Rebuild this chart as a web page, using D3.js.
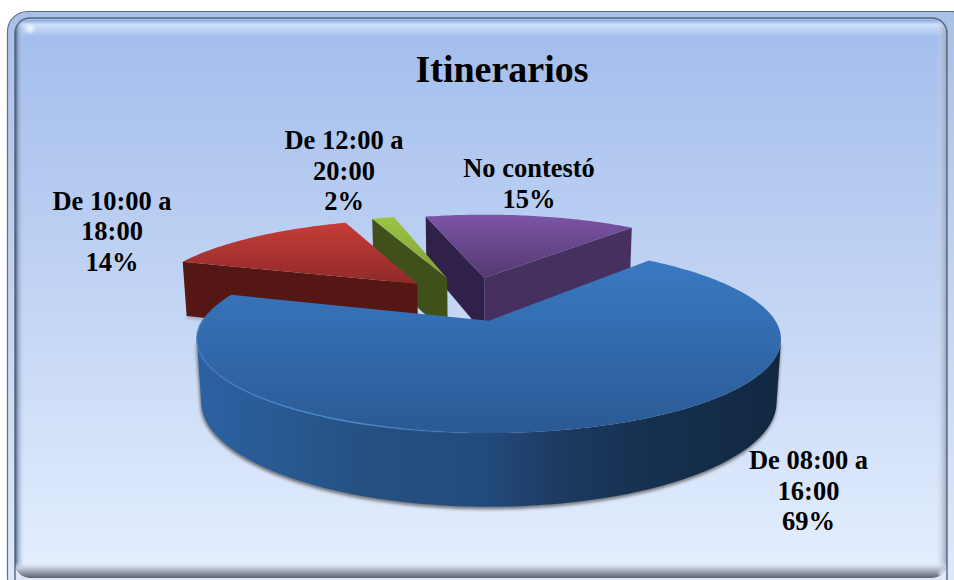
<!DOCTYPE html>
<html>
<head>
<meta charset="utf-8">
<title>Itinerarios</title>
<script src="https://cdn.jsdelivr.net/npm/d3@7"></script>
<style>
  html, body { margin: 0; padding: 0; background: #fff; }
  svg { display: block; }
  text { font-family: "Liberation Serif", serif; font-weight: bold; fill: #000; text-anchor: middle; }
</style>
</head>
<body>
<svg id="chart" width="954" height="580"></svg>
<script>
const categories = ['De 08:00 a 16:00', 'De 10:00 a 18:00', 'De 12:00 a 20:00', 'No contestó'];
const values = [68.8, 14.2, 1.6, 15.4];
const labelLines = [['De 08:00 a', '16:00', '69%'], ['De 10:00 a', '18:00', '14%'], ['De 12:00 a', '20:00', '2%'], ['No contestó', '15%']];
const topColors = [['#3a79c3', '#2a5a94'], ['#c73c38', '#8f2a28'], ['#9cc443', '#7f9f35'], ['#7c54a6', '#54386f']];
const wallColors = [['#2b62a3', '#122842'], ['#541713', '#541713'], ['#3f501b', '#3f501b'], ['#45305f', '#2f2148']];

const WIDTH = 954, HEIGHT = 580;
const svg = d3.select('#chart');
const defs = svg.append('defs');

function gradient(id, stops, x1, y1, x2, y2) {
  const g = defs.append('linearGradient').attr('id', id)
    .attr('gradientUnits', 'userSpaceOnUse')
    .attr('x1', x1).attr('y1', y1).attr('x2', x2).attr('y2', y2);
  stops.forEach(s => g.append('stop').attr('offset', s[0]).attr('stop-color', s[1]).attr('stop-opacity', s[2] === undefined ? 1 : s[2]));
}

/*
 * Frame
 */
gradient('panel', [[0, '#a3bdec'], [0.5, '#c3d5f4'], [1, '#e4eefe']], 0, 30, 0, 570);
gradient('rim', [[0, '#a9c0e6'], [1, '#e0e8f8']], 0, 11, 0, 580);
gradient('topBand', [[0, '#8fa9d6'], [0.3, '#cfe2fc'], [1, '#a6c0ec']], 0, 20, 0, 36);
gradient('bottomBand', [[0, '#dfe9fa', 0], [0.4, '#c0c8d6'], [1, '#5a6272']], 0, 562, 0, 578);
gradient('rightBand', [[0, '#d5dff0', 0], [1, '#9aa4b6']], 936, 0, 947, 0);
gradient('leftBand', [[0, '#46556f'], [0.4, '#8ea2c4', 0.7], [1, '#b8cdef', 0]], 15, 0, 24, 0);

const glint = defs.append('radialGradient').attr('id', 'glint');
glint.append('stop').attr('offset', 0).attr('stop-color', '#fff').attr('stop-opacity', 0.85);
glint.append('stop').attr('offset', 1).attr('stop-color', '#fff').attr('stop-opacity', 0);

svg.append('rect').attr('x', 7.5).attr('y', 11.5).attr('width', 965).attr('height', 585).attr('rx', 20)
  .attr('fill', 'url(#rim)').attr('stroke', '#5d6f8f').attr('stroke-width', 1.2);

const clipPanel = defs.append('clipPath').attr('id', 'panelClip');
clipPanel.append('rect').attr('x', 15).attr('y', 18).attr('width', 932).attr('height', 560).attr('rx', 15);

const panel = svg.append('g').attr('clip-path', 'url(#panelClip)');
panel.append('rect').attr('x', 15).attr('y', 18).attr('width', 932).attr('height', 560).attr('fill', 'url(#panel)');
panel.append('rect').attr('x', 15).attr('y', 20).attr('width', 932).attr('height', 16).attr('fill', 'url(#topBand)');
panel.append('rect').attr('x', 15).attr('y', 18).attr('width', 10).attr('height', 560).attr('fill', 'url(#leftBand)');
panel.append('rect').attr('x', 936).attr('y', 18).attr('width', 11).attr('height', 560).attr('fill', 'url(#rightBand)');
panel.append('rect').attr('x', 15).attr('y', 562).attr('width', 932).attr('height', 16).attr('fill', 'url(#bottomBand)');
panel.append('circle').attr('cx', 30).attr('cy', 29).attr('r', 6).attr('fill', 'url(#glint)');
panel.append('circle').attr('cx', 943).attr('cy', 574).attr('r', 6).attr('fill', 'url(#glint)');
svg.append('rect').attr('x', 15).attr('y', 18).attr('width', 932).attr('height', 600).attr('rx', 15)
  .attr('fill', 'none').attr('stroke', '#4f6486').attr('stroke-width', 1.4);

/*
 * Perspective projection of the exploded pie
 */
const SCALE = 286, TILT = 0.315, DEPTH = 0.195, THICK = 62, SINK = 0.015, EXPLODE = 0.27;
const originX = 488, originY = 320, shiftX = -0.072, shiftY = 0.251;

function project(px, py, down) {
  const wx = px + shiftX, wy = py + shiftY;
  const d = 1 + DEPTH * wy + SINK * down;
  return [originX + SCALE * wx / d, originY - SCALE * TILT * wy / d + THICK * down / d];
}

const pie = d3.pie().sort(null).value(d => d)
  .startAngle(40 * Math.PI / 180).endAngle((40 + 360) * Math.PI / 180);
const arcs = pie(values);
const line = d3.line();
const STEP = Math.PI / 180;

const slices = arcs.map((a, i) => {
  const mid = (a.startAngle + a.endAngle) / 2;
  const ax = EXPLODE * Math.sin(mid), ay = EXPLODE * Math.cos(mid);
  const angles = d3.range(a.startAngle, a.endAngle, STEP).concat(a.endAngle);
  const rim = angles.map(t => [ax + Math.sin(t), ay + Math.cos(t)]);
  return { i, ax, ay, mid, angles, rim };
});

// Walls that face the viewer: radial sides first, then the curved edge
function radialWall(s, p, color) {
  const quad = [project(s.ax, s.ay, 0), project(p[0], p[1], 0), project(p[0], p[1], 1), project(s.ax, s.ay, 1)];
  return { quad, color };
}

function curvedWall(s) {
  const keep = [];
  for (let k = 0; k < s.rim.length - 1; k++) {
    const a = s.rim[k], b = s.rim[k + 1];
    const q = [project(a[0], a[1], 0), project(b[0], b[1], 0), project(b[0], b[1], 1), project(a[0], a[1], 1)];
    if (d3.polygonArea(q) > 0) {
      if (!keep.length || keep[keep.length - 1] !== a) keep.push(a);
      keep.push(b);
    }
  }
  if (!keep.length) return null;
  return keep.map(p => project(p[0], p[1], 0)).concat(keep.slice().reverse().map(p => project(p[0], p[1], 1)));
}

const blur = defs.append('filter').attr('id', 'soft').attr('x', '-10%').attr('y', '-10%').attr('width', '120%').attr('height', '120%');
blur.append('feGaussianBlur').attr('stdDeviation', 1.6);

// Back to front: purple, green, red, blue
const order = [3, 2, 1, 0];
const pieGroup = svg.append('g');

// Ground shadows
[0, 1].forEach(i => {
  const s = slices[i];
  const wall = curvedWall(s);
  const pts = i === 0 ? wall : [project(s.rim[0][0], s.rim[0][1], 1), project(s.ax, s.ay, 1)];
  pieGroup.append('path').attr('d', line(pts) + (i === 0 ? 'Z' : ''))
    .attr('fill', i === 0 ? '#555' : 'none').attr('stroke', '#666').attr('stroke-width', 1.5)
    .attr('opacity', 0.75).attr('filter', 'url(#soft)')
    .attr('transform', i === 0 ? 'translate(-0.5,2)' : 'translate(0,1)');
});

order.forEach(i => {
  const s = slices[i];
  const g = pieGroup.append('g').attr('class', 'slice');
  const first = s.rim[0], last = s.rim[s.rim.length - 1];
  const top = [project(s.ax, s.ay, 0)].concat(s.rim.map(p => project(p[0], p[1], 0)));
  const ys = top.map(p => p[1]);

  // radial sides, culled by winding
  const sideA = radialWall(s, first, wallColors[i][1]);
  const sideB = radialWall(s, last, wallColors[i][0]);
  [sideA, sideB].forEach((w, k) => {
    const facing = k === 0 ? d3.polygonArea(w.quad) > 0 : d3.polygonArea(w.quad) < 0;
    if (facing) g.append('path').attr('d', line(w.quad) + 'Z').attr('fill', w.color);
  });

  // curved side
  const wall = curvedWall(s);
  if (wall) {
    const xs = wall.map(p => p[0]);
    const id = 'wall' + i;
    gradient(id, i === 0
      ? [[0, '#2b62a3'], [0.3, '#25507f'], [0.5, '#234a7c'], [0.62, '#1d3a60'], [0.78, '#15304f'], [1, '#122842']]
      : [[0, wallColors[i][0]], [1, wallColors[i][1]]], d3.min(xs), 0, d3.max(xs), 0);
    g.append('path').attr('d', line(wall) + 'Z').attr('fill', 'url(#' + id + ')');
  }

  // top face
  gradient('top' + i, [[0, topColors[i][0]], [1, topColors[i][1]]], 0, d3.min(ys), 0, d3.max(ys));
  g.append('path').attr('d', line(top) + 'Z').attr('fill', 'url(#top' + i + ')');

  // lit bevel on the near left of the big slice
  if (i === 0) {
    const bevel = s.rim.filter((p, k) => s.angles[k] > 180 * STEP && s.angles[k] < 272 * STEP)
      .map(p => project(p[0], p[1], 0));
    const bx = bevel.map(p => p[0]);
    gradient('bevel', [[0, '#4c8ad2', 0], [0.45, '#4f8dd6', 0.9], [1, '#3f7cc2', 0.8]], d3.max(bx), 0, d3.min(bx), 0);
    g.append('path').attr('d', line(bevel)).attr('fill', 'none')
      .attr('stroke', 'url(#bevel)').attr('stroke-width', 1.6);
  }
});

/*
 * Text
 */
svg.append('text').attr('x', 502).attr('y', 82).attr('font-size', 38).text('Itinerarios');

const labelX = [808.5, 112, 344, 529];
const labelY = [469, 209.5, 149, 177];
const labels = svg.selectAll('text.label')
  .data(labelLines)
  .enter().append('text')
    .attr('class', 'label')
    .attr('font-size', 26.5)
    .attr('data-name', (d, i) => categories[i]);

labels.each(function(d, i) {
  d3.select(this).selectAll('tspan')
    .data(d)
    .enter().append('tspan')
      .attr('x', labelX[i])
      .attr('y', (t, k) => labelY[i] + k * 30.5)
      .text(t => t);
});
</script>
</body>
</html>
